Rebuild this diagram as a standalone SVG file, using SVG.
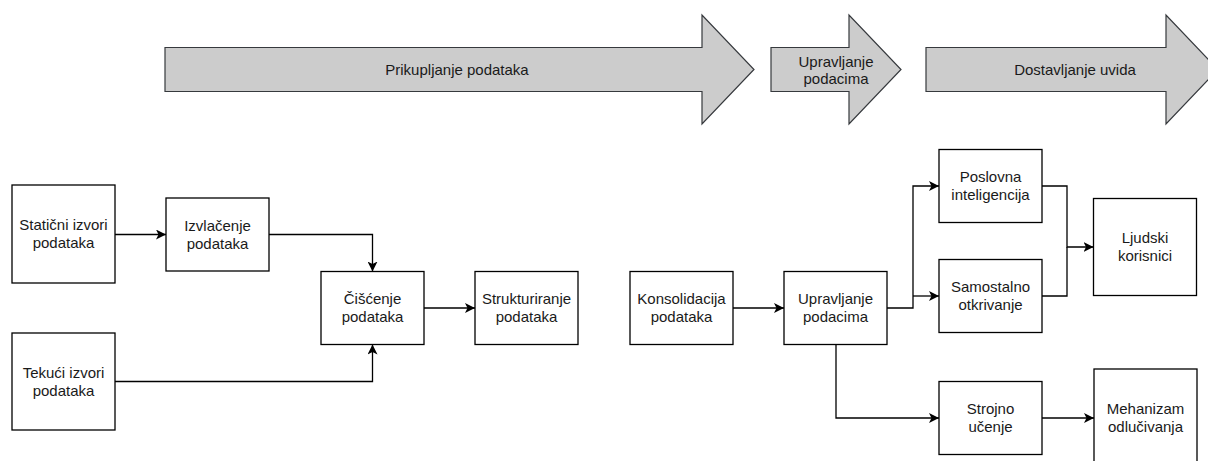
<svg xmlns="http://www.w3.org/2000/svg" width="1208" height="461" viewBox="0 0 1208 461">
<style>
.phase{fill:#cccccc;stroke:#36393d;stroke-width:1.2}
.box{fill:#ffffff;stroke:#000000;stroke-width:1.3}
.t{font-family:"Liberation Sans",Arial,sans-serif;font-size:15px;fill:#1a1a1a;text-anchor:middle}
.c{fill:none;stroke:#000000;stroke-width:1.3}
</style>
<defs>
<marker id="ah" markerUnits="userSpaceOnUse" markerWidth="12" markerHeight="10" refX="10" refY="5" orient="auto">
<path d="M0,0 L10,5 L0,10 L2.5,5 Z" fill="#000"/>
</marker>
</defs>
<rect width="1208" height="461" fill="#ffffff"/>
<g id="phase-prikupljanje">
<polygon class="phase" points="165,47.5 702,47.5 702,15 754,69.5 702,124 702,91.5 165,91.5"/>
<text class="t" x="457" y="74.5">Prikupljanje podataka</text>
</g>
<g id="phase-upravljanje">
<polygon class="phase" points="771,47.5 849,47.5 849,15 901,69.5 849,124 849,91.5 771,91.5"/>
<text class="t" x="836" y="66.5">Upravljanje</text>
<text class="t" x="836" y="83.5">podacima</text>
</g>
<g id="phase-dostavljanje">
<polygon class="phase" points="926,47.5 1166,47.5 1166,15 1218,69.5 1166,124 1166,91.5 926,91.5"/>
<text class="t" x="1075" y="74.5">Dostavljanje uvida</text>
</g>
<g id="connectors">
<path class="c" d="M115,234.5 H166" marker-end="url(#ah)"/>
<path class="c" d="M269,234.5 H372.5 V271.5" marker-end="url(#ah)"/>
<path class="c" d="M115,381.5 H372.5 V344.5" marker-end="url(#ah)"/>
<path class="c" d="M424,308 H475" marker-end="url(#ah)"/>
<path class="c" d="M733,308 H784" marker-end="url(#ah)"/>
<path class="c" d="M887,308 H913 V186 H939" marker-end="url(#ah)"/>
<path class="c" d="M913,296 H939" marker-end="url(#ah)"/>
<path class="c" d="M836,344.5 V418 H939" marker-end="url(#ah)"/>
<path class="c" d="M1042,186 H1067 V247 H1093.5" marker-end="url(#ah)"/>
<path class="c" d="M1042,296 H1067 V247"/>
<path class="c" d="M1042,418 H1094" marker-end="url(#ah)"/>
</g>
<g id="staticni">
<rect class="box" x="12" y="185" width="103" height="98"/>
<text class="t" x="63.5" y="230">Statični izvori</text>
<text class="t" x="63.5" y="248">podataka</text>
</g>
<g id="izvlacenje">
<rect class="box" x="166" y="198" width="103" height="73"/>
<text class="t" x="217.5" y="230.5">Izvlačenje</text>
<text class="t" x="217.5" y="248.5">podataka</text>
</g>
<g id="tekuci">
<rect class="box" x="12" y="333" width="103" height="97"/>
<text class="t" x="63.5" y="377.5">Tekući izvori</text>
<text class="t" x="63.5" y="395.5">podataka</text>
</g>
<g id="ciscenje">
<rect class="box" x="321" y="271.5" width="103" height="73"/>
<text class="t" x="372.5" y="303.5">Čišćenje</text>
<text class="t" x="372.5" y="321.5">podataka</text>
</g>
<g id="strukturiranje">
<rect class="box" x="475" y="271.5" width="103" height="73"/>
<text class="t" x="526.5" y="303.5">Strukturiranje</text>
<text class="t" x="526.5" y="321.5">podataka</text>
</g>
<g id="konsolidacija">
<rect class="box" x="630" y="271.5" width="103" height="73"/>
<text class="t" x="681.5" y="303.5">Konsolidacija</text>
<text class="t" x="681.5" y="321.5">podataka</text>
</g>
<g id="upravljanje">
<rect class="box" x="784" y="271.5" width="103" height="73"/>
<text class="t" x="835.5" y="303.5">Upravljanje</text>
<text class="t" x="835.5" y="321.5">podacima</text>
</g>
<g id="poslovna">
<rect class="box" x="939" y="149.5" width="103" height="73"/>
<text class="t" x="990.5" y="181.5">Poslovna</text>
<text class="t" x="990.5" y="199.5">inteligencija</text>
</g>
<g id="samostalno">
<rect class="box" x="939" y="259.5" width="103" height="73"/>
<text class="t" x="990.5" y="291.5">Samostalno</text>
<text class="t" x="990.5" y="309.5">otkrivanje</text>
</g>
<g id="strojno">
<rect class="box" x="939" y="381.5" width="103" height="73"/>
<text class="t" x="990.5" y="413.5">Strojno</text>
<text class="t" x="990.5" y="431.5">učenje</text>
</g>
<g id="ljudski">
<rect class="box" x="1093.5" y="198.5" width="103" height="97"/>
<text class="t" x="1145" y="242.5">Ljudski</text>
<text class="t" x="1145" y="260.5">korisnici</text>
</g>
<g id="mehanizam">
<rect class="box" x="1094" y="369" width="103" height="98"/>
<text class="t" x="1145.5" y="413.5">Mehanizam</text>
<text class="t" x="1145.5" y="431.5">odlučivanja</text>
</g>
</svg>
